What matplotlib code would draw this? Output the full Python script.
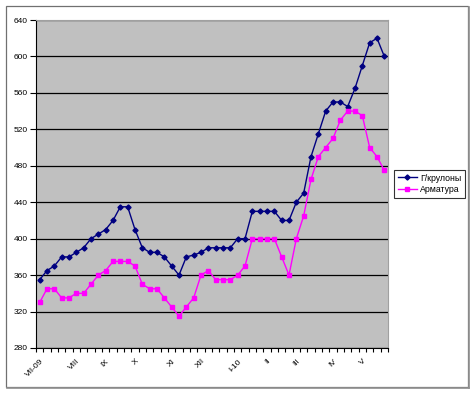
import matplotlib
matplotlib.use("Agg")
import matplotlib.pyplot as plt
from matplotlib.patches import Rectangle
from matplotlib.lines import Line2D

plt.rcParams['font.family'] = ['Liberation Sans', 'DejaVu Sans']

# Weekly data, 48 weeks (VII-2009 .. V-2010)
coils = [355, 365, 370, 380, 380, 385, 390, 400, 405, 410, 420, 435, 435, 410, 390, 385,
         385, 380, 370, 360, 380, 382, 385, 390, 390, 390, 390, 400, 400, 430, 430, 430,
         430, 420, 420, 440, 450, 490, 515, 540, 550, 550, 545, 565, 590, 615, 620, 600]
rebar = [330, 345, 345, 335, 335, 340, 340, 350, 360, 365, 375, 375, 375, 370, 350, 345,
         345, 335, 325, 315, 325, 335, 360, 365, 355, 355, 355, 360, 370, 400, 400, 400,
         400, 380, 360, 400, 425, 465, 490, 500, 510, 530, 540, 540, 535, 500, 490, 475]
month_labels = ["VII-09", "VIII", "IX", "X", "XI", "XII", "I-10", "II", "III", "IV", "V"]
month_pos = [0, 5, 9, 13, 18, 22, 27, 31, 35, 40, 44]
series_names = ["Г/крулоны", "Арматура"]
y_ticks = [280, 320, 360, 400, 440, 480, 520, 560, 600, 640]

W, H = 475, 395
fig = plt.figure(figsize=(W / 100, H / 100), dpi=100)
fig.patch.set_facecolor('white')

# outer chart frame with slight shadow on right/bottom
fig.patches.append(Rectangle((6 / W, 1 - 387 / H), 462 / W, 381 / H, transform=fig.transFigure,
                             fill=False, edgecolor='#707070', linewidth=0.9))
fig.lines.append(Line2D([469 / W, 469 / W], [1 - 388 / H, 1 - 7 / H], transform=fig.transFigure,
                        color='#909090', linewidth=1.2))
fig.lines.append(Line2D([7 / W, 469 / W], [1 - 388 / H, 1 - 388 / H], transform=fig.transFigure,
                        color='#909090', linewidth=1.2))

ax = fig.add_axes([36 / W, 1 - 348 / H, 352 / W, 328 / H])
ax.set_facecolor('#C0C0C0')

x = list(range(len(coils)))
ax.plot(x, coils, color='#000080', linewidth=1.0, marker='D', markersize=2.6,
        label=series_names[0], zorder=3)
ax.plot(x, rebar, color='#FF00FF', linewidth=1.0, marker='s', markersize=3.0,
        label=series_names[1], zorder=3)

ax.set_xlim(-0.5, len(coils) - 0.5)
ax.set_ylim(280, 640)
ax.set_yticks(y_ticks)
ax.yaxis.grid(True, color='#000000', linewidth=0.9)
ax.set_axisbelow(True)
ax.tick_params(axis='y', direction='out', length=4, width=0.8, labelsize=6, pad=2, colors='black')

ax.set_xticks(month_pos)
ax.set_xticklabels(month_labels, rotation=45, ha='right', va='top', rotation_mode='anchor')
ax.tick_params(axis='x', which='major', length=0, labelsize=6, pad=7)
ax.set_xticks([i - 0.5 for i in range(len(coils) + 1)], minor=True)
ax.tick_params(axis='x', which='minor', direction='out', length=3, width=0.8)

for s in ['top', 'right']:
    ax.spines[s].set_color('#A0A0A0')
    ax.spines[s].set_linewidth(0.8)
for s in ['left', 'bottom']:
    ax.spines[s].set_color('black')
    ax.spines[s].set_linewidth(0.8)

leg = fig.legend(loc='upper left', bbox_to_anchor=(394 / W, 1 - 170 / H), fontsize=6.3,
                 frameon=True, fancybox=False, edgecolor='black', borderpad=0.4,
                 handlelength=2.2, handletextpad=0.4, labelspacing=0.3, borderaxespad=0)
leg.get_frame().set_linewidth(0.8)

fig.savefig('out.png', dpi=100)
